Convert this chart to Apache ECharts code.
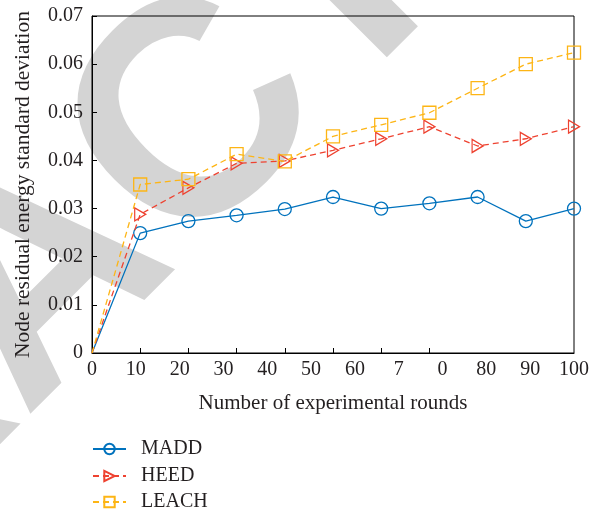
<!DOCTYPE html>
<html>
<head>
<meta charset="utf-8">
<script src="https://cdn.jsdelivr.net/npm/echarts@6/dist/echarts.min.js"></script>
<style>
html,body{margin:0;padding:0;background:#fff;}
#chart{width:596px;height:513px;}
</style>
</head>
<body>
<div id="chart"></div>
<script>
// ---- data ----
const rounds = [0, 10, 20, 30, 40, 50, 60, 70, 80, 90, 100];
const madd  = [0, 0.0249, 0.0274, 0.0286, 0.0299, 0.0324, 0.0300, 0.0311, 0.0324, 0.0274, 0.0300];
const heed  = [0, 0.0288, 0.0343, 0.0394, 0.0399, 0.0421, 0.0445, 0.0470, 0.0430, 0.0445, 0.0470];
const leach = [0, 0.0350, 0.0361, 0.0413, 0.0398, 0.0450, 0.0474, 0.0499, 0.0550, 0.0600, 0.0624];
const xTickLabels = ['0', '10', '20', '30', '40', '50', '60', '7', '0', '80', '90', '100'];
const xTickMarks = [10, 20, 30, 40, 50, 60, 70];
const seriesNames = ['MADD', 'HEED', 'LEACH'];
const xTitle = 'Number of experimental rounds';
const yTitle = 'Node residual energy standard deviation';

const FONT = '"Liberation Serif", "Times New Roman", serif';
const TXT = '#231f20';
const colors = ['#0072BD', '#EE4230', '#FDB515'];

function pts(arr) {
  return arr.map((v, i) => i === 0 ? { value: [rounds[i], v], symbol: 'none' } : [rounds[i], v]);
}

const chart = echarts.init(document.getElementById('chart'), null, { renderer: 'canvas' });

const D = 0.7071;
const wmU = -1109, wmV = 230;
const legendTops = [439, 466, 492];

chart.setOption({
  backgroundColor: '#fff',
  animation: false,
  graphic: [{
    type: 'text',
    z: -100,
    silent: true,
    x: D * (wmU + wmV),
    y: D * (wmV - wmU),
    rotation: Math.PI / 4,
    style: {
      text: 'RETRACTED',
      font: 'bold 305px "Liberation Sans", Arial, sans-serif',
      fill: '#d4d4d4',
      align: 'left',
      verticalAlign: 'middle',
      textAlign: 'left',
      textVerticalAlign: 'middle'
    }
  }],
  grid: {
    left: 92, right: 22, top: 16, bottom: 160,
    show: true, borderColor: '#000', borderWidth: 1, backgroundColor: 'transparent'
  },
  legend: seriesNames.map((n, i) => ({
    orient: 'vertical',
    left: 92, top: legendTops[i], padding: 0,
    itemWidth: 33, itemHeight: 13,
    data: [n],
    textStyle: { fontFamily: FONT, fontSize: 20, lineHeight: 17, color: TXT, padding: [0, 0, 0, 10] }
  })),
  xAxis: [{
    type: 'value', min: 0, max: 100, interval: 10,
    axisLine: { lineStyle: { color: '#000', width: 1 } },
    axisTick: { inside: true, length: 5, lineStyle: { color: '#000' }, customValues: xTickMarks },
    axisLabel: { show: false },
    splitLine: { show: false },
    name: xTitle, nameLocation: 'middle', nameGap: 40,
    nameTextStyle: { fontFamily: FONT, fontSize: 21, color: TXT }
  }, {
    type: 'value', min: 0, max: xTickLabels.length - 1, interval: 1,
    position: 'bottom',
    axisLine: { show: false }, axisTick: { show: false }, splitLine: { show: false },
    axisLabel: {
      margin: 7, fontFamily: FONT, fontSize: 20, color: TXT,
      formatter: v => xTickLabels[Math.round(v)] ?? ''
    }
  }],
  yAxis: {
    type: 'value', min: 0, max: 0.07, interval: 0.01,
    axisLine: { lineStyle: { color: '#000', width: 1 } },
    axisTick: { inside: true, length: 5, lineStyle: { color: '#000' } },
    splitLine: { show: false },
    axisLabel: {
      margin: 9, fontFamily: FONT, fontSize: 20, color: TXT,
      formatter: v => v === 0 ? '0' : v.toFixed(2)
    },
    name: yTitle, nameLocation: 'middle', nameGap: 58,
    nameTextStyle: { fontFamily: FONT, fontSize: 21.5, color: TXT }
  },
  series: [{
    name: seriesNames[0], type: 'line', xAxisIndex: 0,
    data: pts(madd),
    symbol: 'circle', symbolSize: 13,
    lineStyle: { color: colors[0], width: 1.3, type: 'solid' },
    itemStyle: { color: 'rgba(255,255,255,0)', borderColor: colors[0], borderWidth: 1.3 },
    z: 3
  }, {
    name: seriesNames[1], type: 'line', xAxisIndex: 0,
    data: pts(heed),
    symbol: 'path://M0,0L10,6L0,12Z', symbolSize: [11, 13],
    lineStyle: { color: colors[1], width: 1.3, type: [6, 4] },
    itemStyle: { color: 'rgba(255,255,255,0)', borderColor: colors[1], borderWidth: 1.3 },
    z: 4
  }, {
    name: seriesNames[2], type: 'line', xAxisIndex: 0,
    data: pts(leach),
    symbol: 'rect', symbolSize: 13,
    lineStyle: { color: colors[2], width: 1.3, type: [6, 4] },
    itemStyle: { color: 'rgba(255,255,255,0)', borderColor: colors[2], borderWidth: 1.3 },
    z: 5
  }]
});
</script>
</body>
</html>
